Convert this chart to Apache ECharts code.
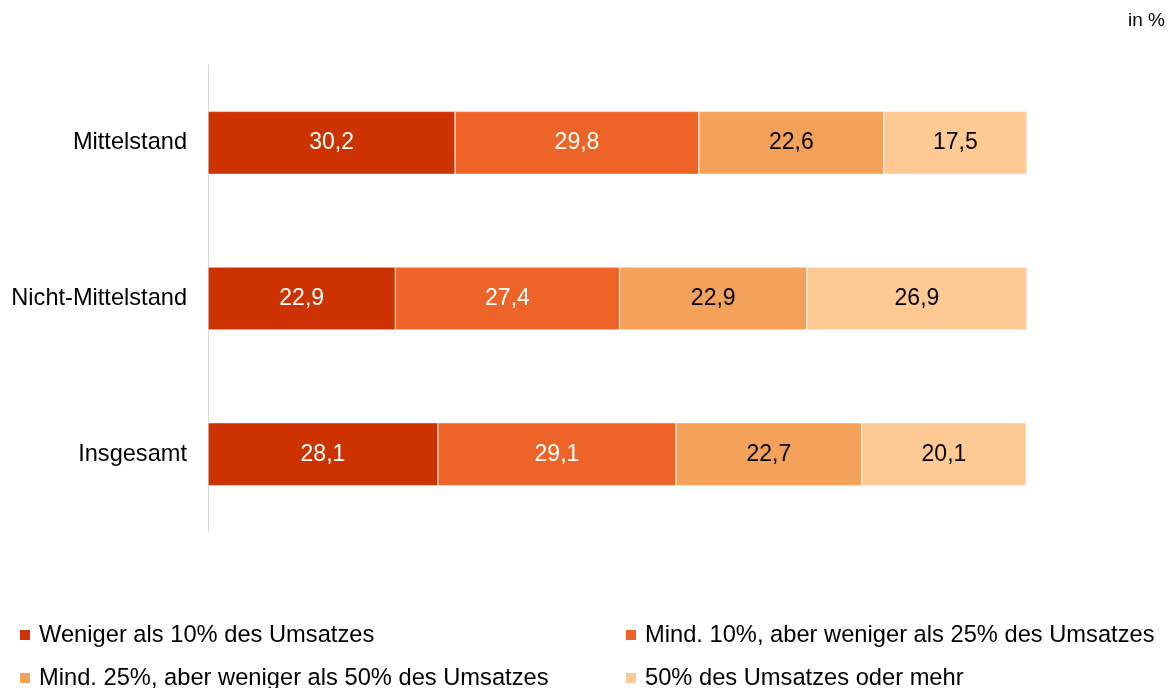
<!DOCTYPE html>
<html>
<head>
<meta charset="utf-8">
<style>
  html, body { margin: 0; padding: 0; background: #fff; }
  #chart { width: 1174px; height: 688px; }
</style>
<script src="https://cdn.jsdelivr.net/npm/echarts@6/dist/echarts.min.js"></script>
</head>
<body>
<div id="chart"></div>
<script>
// Kategorien und Werte (in %)
var categories = ['Mittelstand', 'Nicht-Mittelstand', 'Insgesamt'];
var seriesNames = [
    'Weniger als 10% des Umsatzes',
    'Mind. 10%, aber weniger als 25% des Umsatzes',
    'Mind. 25%, aber weniger als 50% des Umsatzes',
    '50% des Umsatzes oder mehr'
];
var under10 = [30.2, 22.9, 28.1];
var from10to25 = [29.8, 27.4, 29.1];
var from25to50 = [22.6, 22.9, 22.7];
var over50 = [17.5, 26.9, 20.1];

var colors = ['#cc3300', '#ee6428', '#f4a25a', '#ffc993'];
var labelColors = ['#ffffff', '#ffffff', '#000000', '#000000'];
var values = [under10, from10to25, from25to50, over50];

(function () {
    var myChart = echarts.init(document.getElementById('chart'));

    var series = values.map(function (data, i) {
        return {
            name: seriesNames[i],
            type: 'bar',
            stack: 'total',
            barWidth: 63,
            data: data,
            itemStyle: {
                color: colors[i],
                borderColor: '#ffffff',
                borderWidth: 0.5
            },
            label: {
                show: true,
                position: 'inside',
                color: labelColors[i],
                fontFamily: 'Liberation Sans',
                fontSize: 23,
                formatter: function (p) {
                    return p.value.toFixed(1).replace('.', ',');
                }
            }
        };
    });

    // Legende: zwei Spalten, zwei Zeilen
    var legendPos = [[13, 618], [619, 618], [13, 661], [619, 661]];
    var legends = seriesNames.map(function (name, i) {
        return {
            left: legendPos[i][0],
            top: legendPos[i][1],
            itemWidth: 12,
            itemHeight: 12,
            itemGap: 0,
            icon: 'rect',
            data: [name],
            textStyle: {
                color: '#000',
                fontFamily: 'Liberation Sans',
                fontSize: 23.7,
                padding: [0, 0, 0, 3]
            }
        };
    });

    var option = {
        animation: false,
        color: colors,
        title: {
            text: 'in %',
            right: 4,
            top: 6,
            textStyle: {
                color: '#000',
                fontFamily: 'Liberation Sans',
                fontSize: 19,
                fontWeight: 'normal'
            }
        },
        legend: legends,
        grid: {
            left: 208,
            right: 147,
            top: 65,
            bottom: 156
        },
        xAxis: {
            type: 'value',
            min: 0,
            max: 100.1,
            show: false
        },
        yAxis: {
            type: 'category',
            inverse: true,
            data: categories,
            axisTick: { show: false },
            axisLine: {
                lineStyle: { color: '#d9d9d9', width: 1 }
            },
            axisLabel: {
                color: '#000',
                fontFamily: 'Liberation Sans',
                fontSize: 23.6,
                margin: 21
            }
        },
        series: series
    };
    myChart.setOption(option);
    window.addEventListener('resize', function () {
        myChart.resize();
    });
})();
</script>
</body>
</html>
